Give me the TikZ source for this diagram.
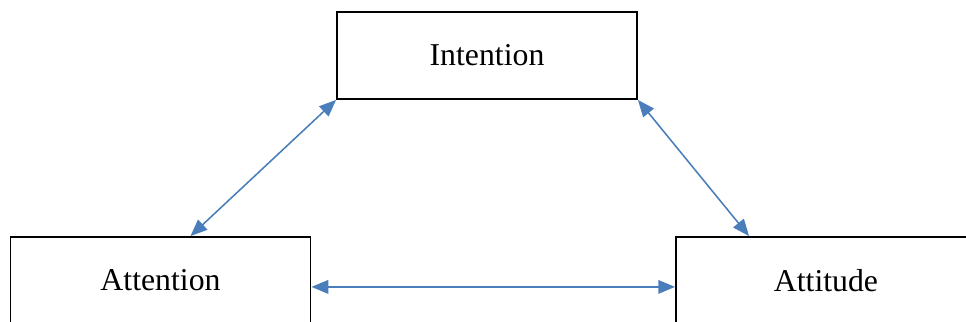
\documentclass[tikz,border=0pt]{standalone}
\usepackage{fontspec}
\setmainfont{Liberation Serif}
\usetikzlibrary{arrows.meta,shadows}
\definecolor{linkblue}{HTML}{4A7EBB}
\begin{document}
\begin{tikzpicture}[x=0.025cm,y=-0.025cm,
    box/.style={rectangle,draw=black,fill=white,line width=1.3pt,
        minimum width=7.5cm,minimum height=2.175cm,inner sep=0pt,
        drop shadow={opacity=0.18,shadow xshift=0.6pt,shadow yshift=-0.6pt},
        font=\fontsize{22.6}{26}\selectfont},
    link/.style={draw=linkblue,line width=1.1pt,
        {Triangle[length=0.42cm,width=0.34cm]}-{Triangle[length=0.42cm,width=0.34cm]}}]
    \useasboundingbox (0,0) rectangle (966,322);
    \node[box] (intention) at (487,55.5) {Intention};
    \node[box] (attention) at (160.5,280.5) {Attention};
    \node[box] (attitude) at (826,280.5) {Attitude};
    \draw[link] (intention.south west) -- ([xshift=0.75cm]attention.north);
    \draw[link] (intention.south east) -- ([xshift=1.85cm]attitude.north west);
    \draw[link] ([yshift=-0.16cm]attention.east) -- ([yshift=-0.16cm]attitude.west);
\end{tikzpicture}
\end{document}
